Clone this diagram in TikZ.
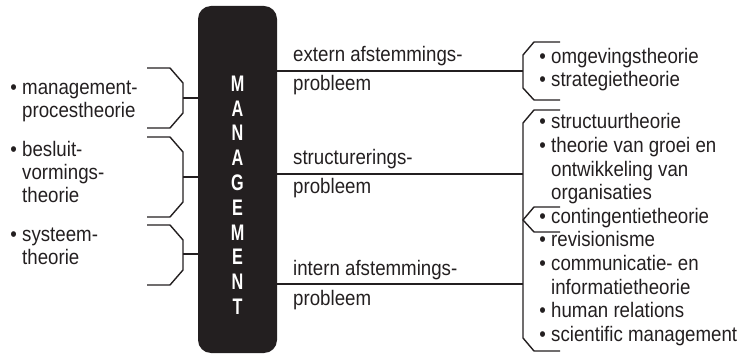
\documentclass[tikz,border=0pt]{standalone}
\usepackage{fontspec}
\setmainfont{Liberation Sans}[FakeStretch=0.89]
\newfontfamily\mgtfont{Liberation Sans}[FakeStretch=0.72]
\definecolor{ink}{HTML}{231F20}
\newcommand\itm{\llap{\textbullet\ }}
\tikzset{
  txt/.style={anchor=base west, inner sep=0pt, text=ink, font=\fontsize{21}{24}\selectfont},
  letter/.style={inner sep=0pt, text=white, font=\mgtfont\bfseries\fontsize{22.5}{24}\selectfont},
  brace/.style={draw=ink, line width=1.4pt},
}
\begin{document}
\begin{tikzpicture}[x=1pt,y=-1pt]
\useasboundingbox (0,0) rectangle (741,355);

% the black bar
\node[fill=ink, rounded corners=13pt, minimum width=79pt, minimum height=347pt, inner sep=0pt] (mgt) at (237.5,179.5) {};
\foreach \l [count=\i from 0] in {M,A,N,A,G,E,M,E,N,T}
  \node[letter] (m\i) at (237.5,83.5+24.8*\i) {\l};

% Left braces
\coordinate (l1) at (183,98);
\coordinate (l2) at (183,177);
\coordinate (l3) at (183,254);
\draw[brace] (147,68) -- (170,68) -- (183,83) -- (183,113) -- (170,128) -- (147,128);
\draw[brace] (147,137) -- (170,137) -- (183,152) -- (183,202) -- (170,217) -- (147,217);
\draw[brace] (147,225) -- (170,225) -- (183,240) -- (183,270) -- (170,285) -- (147,285);
\draw[brace] (l1) -- (l1 -| mgt.west);
\draw[brace] (l2) -- (l2 -| mgt.west);
\draw[brace] (l3) -- (l3 -| mgt.west);

% Right braces
\coordinate (r1) at (523,71);
\coordinate (r2) at (523,174);
\coordinate (r3) at (523,284);
\draw[brace] (560,42) -- (534,42) -- (523,55) -- (523,88) -- (534,100) -- (560,100);
\draw[brace] (560,110) -- (534,110) -- (523,123) -- (523,220) -- (534,232) -- (560,232);
\draw[brace] (560,207) -- (534,207) -- (523,220) -- (523,338) -- (534,351) -- (560,351);
\draw[brace] (r1 -| mgt.east) -- (r1);
\draw[brace] (r2 -| mgt.east) -- (r2);
\draw[brace] (r3 -| mgt.east) -- (r3);

% Labels left
\node[txt] (a1) at (22,95) {\itm management-};
\node[txt] (a2) at (22,118) {procestheorie};
\node[txt] (b1) at (22,157) {\itm besluit-};
\node[txt] (b2) at (22,180) {vormings-};
\node[txt] (b3) at (22,203) {theorie};
\node[txt] (c1) at (22,242) {\itm systeem-};
\node[txt] (c2) at (22,265) {theorie};

% Labels on the lines
\node[txt] (p1) at (293,62) {extern afstemmings-};
\node[txt] (q1) at (293,91) {probleem};
\node[txt] (p2) at (293,165) {structurerings-};
\node[txt] (q2) at (293,194) {probleem};
\node[txt] (p3) at (293,275) {intern afstemmings-};
\node[txt] (q3) at (293,305) {probleem};

% Labels right
\node[txt] (o1) at (551,63.3) {\itm omgevingstheorie};
\node[txt] (o2) at (551,86.7) {\itm strategietheorie};
\foreach \t [count=\i from 0] in {\itm structuurtheorie, \itm theorie van groei en,
    ontwikkeling van, organisaties, \itm contingentietheorie, \itm revisionisme,
    \itm communicatie- en, informatietheorie, \itm human relations, \itm scientific management}
  \node[txt] (t\i) at (551,129+23.6*\i) {\t};
\end{tikzpicture}
\end{document}
